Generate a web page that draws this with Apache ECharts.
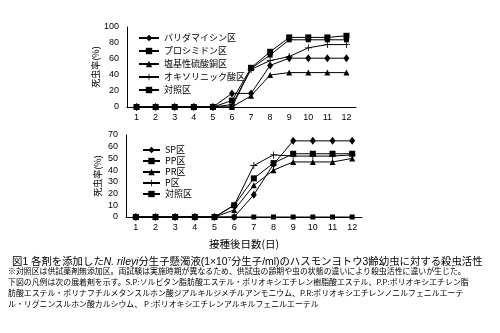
<!DOCTYPE html>
<html><head><meta charset="utf-8">
<script src="https://cdn.jsdelivr.net/npm/echarts@6/dist/echarts.min.js"></script>
<style>html,body{margin:0;padding:0;background:#fff}#c{width:500px;height:333px}</style>
</head><body><div id="c"></div>
<script>
const days = ['1','2','3','4','5','6','7','8','9','10','11','12'];
// upper chart (%)
const validamycin = [0,0,0,0,0,17,17,52,61,61,61,61];
const procymidone = [0,0,0,0,0,8,49,69,87,87,87,89];
const basicCopper = [0,0,0,0,0,0,14,40,43,43,43,43];
const oxolinic    = [0,0,0,0,0,3,47,58,63,74,78,78];
const controlTop  = [0,0,0,0,0,0,48,65,84,84,84,84];
// lower chart (%)
const sp = [0,0,0,0,0,0,19,45,65,65,65,65];
const pp = [0,0,0,0,0,10,33,46,54,54,54,54];
const pr = [0,0,0,0,0,6,27,40,47,47,47,50];
const p  = [0,0,0,0,0,10,44,53,52,52,52,53];
const controlBottom = [0,0,0,0,0,0,0,0,0,0,0,0];
const topTicks = [0,20,40,60,80,100];
const bottomTicks = [0,10,20,30,40,50,60,70];

const FONT = "'Liberation Sans','Noto Sans CJK JP',sans-serif";
const JP = "'Noto Sans CJK JP',sans-serif";
const PLUS = 'path://M0,4.4H10V5.6H0Z M4.4,0H5.6V10H4.4Z';

function mk(name, data, symbol, size, idx){
  return {type:'line', name, data, xAxisIndex:idx, yAxisIndex:idx,
    symbol, symbolSize:size, showSymbol:true, animation:false,
    lineStyle:{color:'#000', width:1}, itemStyle:{color:'#000', borderWidth:0},
    emphasis:{disabled:true}};
}
function xAx(idx, name){
  return {type:'category', gridIndex:idx, data:days, boundaryGap:true,
    axisLine:{lineStyle:{color:'#000', width:1}},
    axisTick:{inside:true, length:3, lineStyle:{color:'#000'}},
    axisLabel:{color:'#000', fontSize:9, fontFamily:FONT, margin:6},
    name:name||'', nameLocation:'middle', nameGap:22,
    nameTextStyle:{color:'#000', fontSize:10.5, fontFamily:JP}};
}
function yAx(idx, max, step){
  return {type:'value', gridIndex:idx, min:0, max, interval:step,
    splitLine:{show:false}, axisLine:{show:true, lineStyle:{color:'#000', width:1}},
    axisTick:{show:false},
    axisLabel:{color:'#000', fontSize:9, fontFamily:FONT, margin:8},
    name:'死虫率(%)', nameLocation:'middle', nameRotate:90, nameGap:24,
    nameTextStyle:{color:'#000', fontSize:9, fontFamily:JP}};
}
const chart = echarts.init(document.getElementById('c'), null, {renderer:'canvas'});
chart.setOption({
  backgroundColor:'#fff',
  animation:false,
  grid:[{left:127, top:27, width:229, height:80},
        {left:126, top:135, width:236, height:82}],
  xAxis:[xAx(0), xAx(1,'接種後日数(日)')],
  yAxis:[yAx(0,100,20), yAx(1,70,10)],
  legend:[
    {orient:'vertical', left:133, top:28, itemWidth:20, itemHeight:8, itemGap:3,
     data:['バリダマイシン区','プロシミドン区','塩基性硫酸銅区','オキソリニック酸区','対照区'],
     textStyle:{color:'#000', fontSize:9, fontFamily:JP, lineHeight:10}, selectedMode:false},
    {orient:'vertical', left:137, top:140, itemWidth:17, itemHeight:8, itemGap:1,
     data:['SP区','PP区','PR区','P区'],
     textStyle:{color:'#000', fontSize:9, fontFamily:JP, lineHeight:10}, selectedMode:false},
    {orient:'vertical', left:137, top:184, itemWidth:17, itemHeight:8, itemGap:1,
     data:['対照区'],
     textStyle:{color:'#000', fontSize:9, fontFamily:JP, lineHeight:10}, selectedMode:false}
  ],
  series:[
    mk('バリダマイシン区', validamycin, 'diamond', [6,8], 0),
    mk('プロシミドン区', procymidone, 'rect', 6, 0),
    mk('塩基性硫酸銅区', basicCopper, 'triangle', 6, 0),
    mk('オキソリニック酸区', oxolinic, PLUS, 7, 0),
    mk('対照区', controlTop, 'rect', 5, 0),
    mk('SP区', sp, 'diamond', [6,8], 1),
    mk('PP区', pp, 'rect', 6, 1),
    mk('PR区', pr, 'triangle', 6, 1),
    mk('P区', p, PLUS, 7, 1),
    mk('対照区', controlBottom, 'rect', 5, 1)
  ],
  title:{left:7, top:251, text:'図1 各剤を添加した{i|N. rileyi}分生子懸濁液(1×10{s|7}分生子/ml)のハスモンヨトウ3齢幼虫に対する殺虫活性',
    textStyle:{color:'#000', fontSize:10.4, fontWeight:'normal', fontFamily:FONT, lineHeight:13,
      rich:{i:{fontStyle:'italic', fontSize:10.4, fontFamily:FONT, color:'#000'},
            s:{fontSize:6, verticalAlign:'top', lineHeight:13, color:'#000', fontFamily:FONT}}}},
  graphic:[
    {type:'text', left:8, top:267, style:{text:'※対照区は供試薬剤無添加区。両試験は実施時期が異なるため、供試虫の齢期や虫の状態の違いにより殺虫活性に違いが生じた。', fill:'#000', font:"7.9px "+JP}},
    {type:'text', left:8, top:278, style:{text:'下図の凡例は次の展着剤を示す。S.P:ソルビタン脂肪酸エステル・ポリオキシエチレン樹脂酸エステル、P.P:ポリオキシエチレン脂', fill:'#000', font:"7.9px "+JP}},
    {type:'text', left:8, top:289, style:{text:'肪酸エステル・ポリナフチルメタンスルホン酸ジアルキルジメチルアンモニウム、P.R:ポリオキシエチレンノニルフェニルエーテ', fill:'#000', font:"7.9px "+JP}},
    {type:'text', left:8, top:300, style:{text:'ル・リグニンスルホン酸カルシウム、 P :ポリオキシエチレンアルキルフェニルエーテル', fill:'#000', font:"7.9px "+JP}}
  ]
});
</script></body></html>
